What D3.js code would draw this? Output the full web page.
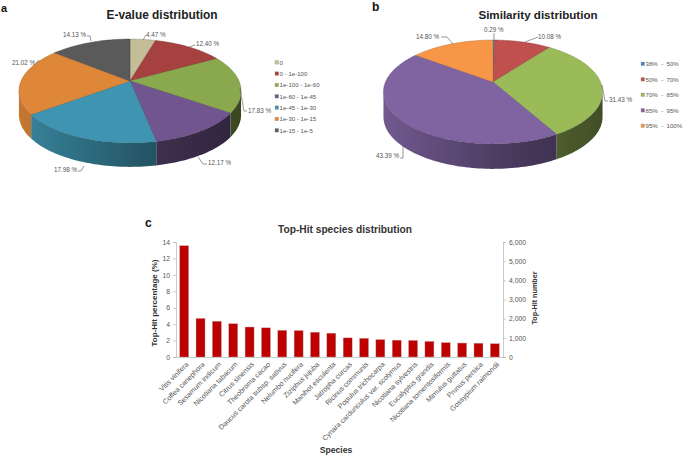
<!DOCTYPE html>
<html>
<head>
<meta charset="utf-8">
<script src="https://cdn.jsdelivr.net/npm/d3@7"></script>
<style>
  html, body { margin: 0; padding: 0; background: #fff; }
  text { font-family: "Liberation Sans", Arial, sans-serif; }
</style>
</head>
<body>
<svg id="chart" width="685" height="457"></svg>
<script>
// panel a
const evalueCats = ["0", "0 - 1e-100", "1e-100 - 1e-60", "1e-60 - 1e-45", "1e-45 - 1e-30", "1e-30 - 1e-15", "1e-15 - 1e-5"]
const evalueVals = [4.47, 12.40, 17.83, 12.17, 17.98, 21.02, 14.13]
const evalueColors = ["#c4bd97", "#a5423f", "#8aa84d", "#71558e", "#3f95b1", "#df8738", "#5a5a5a"]

// panel b
const simCats = ["38%  -  50%", "50%  -  70%", "70%  -  85%", "85%  -  95%", "95%  -  100%"]
const simVals = [0.29, 10.08, 31.43, 43.39, 14.80]
const simColors = ["#4f81bd", "#c0504d", "#9bbb59", "#8064a2", "#f79646"]

// panel c
const species = ["Vitis vinifera", "Coffea canephora", "Sesamum indicum", "Nicotiana tabacum", "Citrus sinensis",
    "Theobroma cacao", "Daucus carota subsp. sativus", "Nelumbo nucifera", "Ziziphus jujuba", "Manihot esculenta",
    "Jatropha curcas", "Ricinus communis", "Populus trichocarpa", "Cynara cardunculus var. scolymus", "Nicotiana sylvestris",
    "Eucalyptus grandis", "Nicotiana tomentosiformis", "Mimulus guttatus", "Prunus persica", "Gossypium raimondii"]
const topHitPct = [13.55, 4.7, 4.35, 4.05, 3.65, 3.55, 3.25, 3.22, 3.02, 2.9, 2.33, 2.28, 2.12, 2.05, 2.02, 1.9, 1.75, 1.7, 1.68, 1.62]

// label text position, then the leader line, in page pixels
const evalueLabels = [
    {x: 146, y: 37, line: [[146, 35], [143, 40]]},
    {x: 196, y: 46, line: [[195, 45], [189, 47]]},
    {x: 248, y: 113, line: [[247, 111], [244, 111], [240, 88]]},
    {x: 208, y: 165, line: [[207, 164], [203, 164], [198, 157]]},
    {x: 54, y: 172, line: [[78, 171], [81, 171], [84, 166]]},
    {x: 12, y: 65, line: [[36, 63], [39, 60]]},
    {x: 63, y: 37, line: [[87, 36], [90, 36], [91, 41]]}
]
const simLabels = [
    {x: 484, y: 32, line: [[494, 33], [494, 40]]},
    {x: 538, y: 39, line: [[538, 37], [525, 42]]},
    {x: 609, y: 102, line: [[608, 101], [605, 101], [602, 85]]},
    {x: 376, y: 158, line: [[400, 158], [403, 158], [403, 145]]},
    {x: 416, y: 39, line: [[441, 37], [447, 37], [453, 44]]}
]

const svg = d3.select("#chart")
const defs = svg.append("defs")
const lineGen = d3.line()

function panelLetter(t, x, y, size) {
    svg.append("text").attr("x", x).attr("y", y).text(t)
        .attr("font-size", size).attr("font-weight", "bold").attr("fill", "#111")
}

function drawPie(o) {
    const g = svg.append("g")
    // tilted disc, the near edge is drawn bigger than the far edge
    const persp = 0.192
    const project = function(a) {
        let u = Math.sin(a), v = -Math.cos(a)
        let s = 1 / (1 - persp * v)
        return [o.cx + o.r * u * s, o.cy + 50 * v * s]
    }
    const arcPoints = function(a0, a1) {
        let n = Math.max(2, Math.ceil((a1 - a0) * 40))
        return d3.range(n + 1).map(i => project(a0 + (a1 - a0) * i / n))
    }

    const slices = d3.pie().sort(null)(o.vals)

    // side wall, only the part facing the viewer
    const sideStart = Math.PI - Math.acos(persp), sideEnd = Math.PI + Math.acos(persp)
    slices.forEach(function(d, i) {
        let a0 = Math.max(d.startAngle, sideStart), a1 = Math.min(d.endAngle, sideEnd)
        if (a1 <= a0) return
        let top = arcPoints(a0, a1)
        let bottom = top.map(p => [p[0], p[1] + o.depth]).reverse()
        let id = o.id + "-side-" + i
        let base = d3.color(o.colors[i])
        // lighter on the left of the pie, dark to the right
        let grad = defs.append("linearGradient").attr("id", id)
            .attr("gradientUnits", "userSpaceOnUse")
            .attr("x1", o.cx - o.r).attr("x2", o.cx + o.r).attr("y1", 0).attr("y2", 0)
        grad.append("stop").attr("offset", 0).attr("stop-color", base.darker(0.35))
        grad.append("stop").attr("offset", 0.55).attr("stop-color", base.darker(1.5))
        grad.append("stop").attr("offset", 1).attr("stop-color", base.darker(2.4))
        g.append("path").attr("d", lineGen(top.concat(bottom)) + "Z")
            .attr("fill", "url(#" + id + ")")
    })

    // top face
    slices.forEach(function(d, i) {
        let pts = [[o.cx, o.cy]].concat(arcPoints(d.startAngle, d.endAngle))
        g.append("path").attr("d", lineGen(pts) + "Z")
            .attr("fill", o.colors[i])
            .attr("stroke", d3.color(o.colors[i]).darker(1))
            .attr("stroke-width", 0.4)
            .attr("stroke-linejoin", "round")
    })

    // labels and leader lines
    o.labels.forEach(function(l, i) {
        g.append("path").attr("d", lineGen(l.line)).attr("fill", "none")
            .attr("stroke", "#555").attr("stroke-width", 0.6)
        g.append("text").attr("x", l.x).attr("y", l.y)
            .text(o.vals[i].toFixed(2) + " %")
            .attr("font-size", 6.3).attr("fill", "#555")
    })

    // legend
    let legendY = d3.scalePoint().domain(o.cats).range(o.legendRange)
    o.cats.forEach(function(c, i) {
        g.append("rect").attr("x", o.legendX).attr("y", legendY(c) - 2).attr("width", 3.6).attr("height", 3.6)
            .attr("fill", o.colors[i]).attr("stroke", "#999").attr("stroke-width", 0.3)
        g.append("text").attr("x", o.legendX + 4.6).attr("y", legendY(c) + 2)
            .text(c).attr("font-size", 6.1).attr("fill", "#555").style("white-space", "pre")
    })

    svg.append("text").attr("x", o.titleX).attr("y", 18.5).attr("text-anchor", "middle")
        .text(o.title).attr("font-size", o.titleSize).attr("font-weight", "bold").attr("fill", "#222")
}

drawPie({id: "a", title: "E-value distribution", titleX: 162, titleSize: 11.9, cx: 130, cy: 81, r: 109, depth: 24,
    vals: evalueVals, cats: evalueCats, colors: evalueColors, labels: evalueLabels,
    legendX: 275, legendRange: [62.5, 130.5]})
drawPie({id: "b", title: "Similarity distribution", titleX: 538, titleSize: 11.6, cx: 493, cy: 82, r: 107.5, depth: 25,
    vals: simVals, cats: simCats, colors: simColors, labels: simLabels,
    legendX: 641, legendRange: [64, 126]})

panelLetter("a", 1, 12, 11)
panelLetter("b", 372, 11, 12)
panelLetter("c", 145, 227, 12)

// bar chart
const plot = {left: 176, right: 503, top: 242, bottom: 357}
const x = d3.scaleBand().domain(species).range([plot.left, plot.right]).paddingInner(0.45).paddingOuter(0.225)
const yLeft = d3.scaleLinear().domain([0, 14]).range([plot.bottom, plot.top])
const yRight = d3.scaleLinear().domain([0, 6000]).range([plot.bottom, plot.top])

const barG = svg.append("g")
barG.selectAll("rect").data(topHitPct).join("rect")
    .attr("x", (d, i) => x(species[i]))
    .attr("y", d => yLeft(d))
    .attr("width", x.bandwidth())
    .attr("height", d => plot.bottom - yLeft(d))
    .attr("fill", "#bd0000")
    .attr("stroke", "#c9a0a0")
    .attr("stroke-width", 0.4)

function styleAxis(ax) {
    ax.selectAll("path, line").attr("stroke", "#b5b5b5").attr("stroke-width", 0.7)
    ax.selectAll("text").attr("fill", "#555").attr("font-size", 6.8)
        .style("font-family", '"Liberation Sans", Arial, sans-serif')
}

svg.append("g").attr("transform", `translate(${plot.left}, 0)`)
    .call(d3.axisLeft(yLeft).tickValues(d3.range(0, 15, 2)).tickSize(3).tickPadding(3))
    .call(styleAxis)

svg.append("g").attr("transform", `translate(${plot.right}, 0)`)
    .call(d3.axisRight(yRight).ticks(6).tickFormat(d3.format(",")).tickSize(3).tickPadding(3))
    .call(styleAxis)

svg.append("g").attr("transform", `translate(0, ${plot.bottom})`)
    .call(d3.axisBottom(x).tickSize(0).tickPadding(4))
    .call(styleAxis)
    .selectAll("text")
    .attr("text-anchor", "end")
    .attr("dx", 0).attr("dy", 0)
    .attr("font-size", 7.1)
    .attr("transform", "translate(2, 5) rotate(-45)")

svg.append("text").attr("x", 345).attr("y", 233).attr("text-anchor", "middle")
    .text("Top-Hit species distribution").attr("font-size", 10.2).attr("font-weight", "bold").attr("fill", "#333")
svg.append("text").attr("x", 336).attr("y", 453).attr("text-anchor", "middle")
    .text("Species").attr("font-size", 8.6).attr("font-weight", "bold").attr("fill", "#333")
svg.append("text").attr("transform", "translate(157, 303) rotate(-90)").attr("text-anchor", "middle")
    .text("Top-Hit percentage (%)").attr("font-size", 8.0).attr("font-weight", "bold").attr("fill", "#333")
svg.append("text").attr("transform", "translate(537, 298) rotate(-90)").attr("text-anchor", "middle")
    .text("Top-Hit number").attr("font-size", 7.2).attr("font-weight", "bold").attr("fill", "#333")
</script>
</body>
</html>
